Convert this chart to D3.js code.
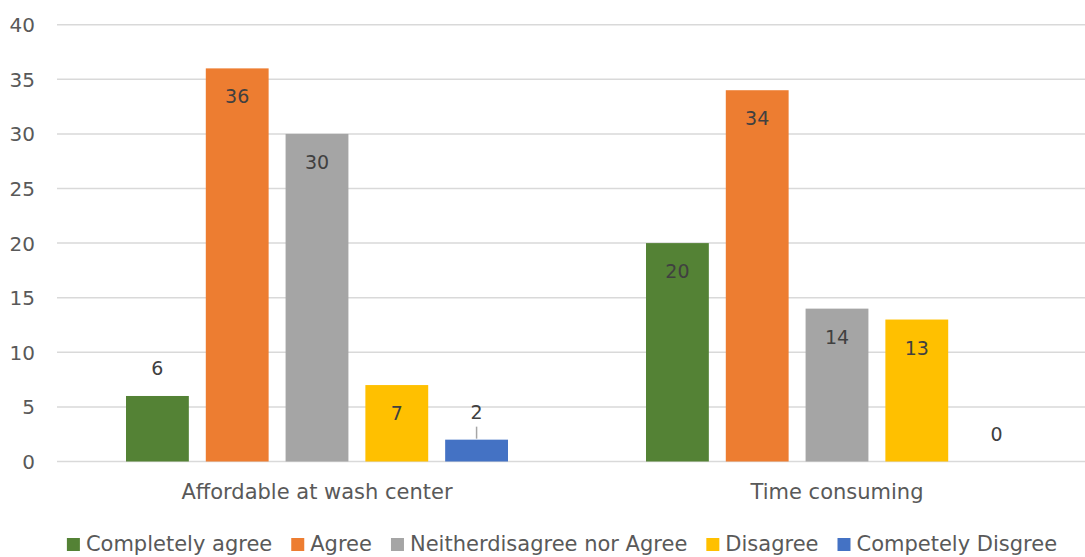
<!DOCTYPE html>
<html>
<head>
<meta charset="utf-8">
<script src="https://cdn.jsdelivr.net/npm/d3@7"></script>
<style>
  body { margin: 0; background: #fff; }
  text { font-family: "DejaVu Sans", sans-serif; }
</style>
</head>
<body>
<svg id="chart" width="1085" height="557"></svg>
<script>
var categories = ["Affordable at wash center", "Time consuming"];
var seriesNames = ["Completely agree", "Agree", "Neitherdisagree nor Agree", "Disagree", "Competely Disgree"];
var seriesColors = ["#548235", "#ED7D31", "#A5A5A5", "#FFC000", "#4472C4"];
// values per series, one per category
var completelyAgree = [6, 20];
var agree = [36, 34];
var neither = [30, 14];
var disagree = [7, 13];
var completelyDisagree = [2, 0];
var yTicks = [0, 5, 10, 15, 20, 25, 30, 35, 40];

(function(){
  "use strict";

  var svg = d3.select("#chart");
  var values = [completelyAgree, agree, neither, disagree, completelyDisagree];

  var x0 = d3.scaleBand().domain(categories).range([57, 1097]).paddingInner(0).paddingOuter(0);
  var x1 = d3.scaleBand().domain(seriesNames).range([69, 451]).paddingInner(0.2125).paddingOuter(0);
  var y = d3.scaleLinear().domain([0, 40]).range([461.5, 24.7]);

  // gridlines
  svg.append("g").selectAll("line")
    .data(yTicks)
    .enter().append("line")
    .attr("x1", 57).attr("x2", 1085)
    .attr("y1", function(d) { return y(d); })
    .attr("y2", function(d) { return y(d); })
    .attr("stroke", "#d9d9d9")
    .attr("stroke-width", 1.5);

  // y axis labels
  svg.append("g").selectAll("text")
    .data(yTicks)
    .enter().append("text")
    .attr("x", 35)
    .attr("y", function(d) { return y(d) + 7.5; })
    .attr("text-anchor", "end")
    .attr("font-size", 20)
    .attr("fill", "#595959")
    .text(function(d) { return d; });

  var points = [];
  categories.forEach(function(c, ci) {
    seriesNames.forEach(function(s, si) {
      points.push({cat: c, series: s, si: si, value: values[si][ci]});
    });
  });

  var bars = svg.append("g");
  bars.selectAll("rect")
    .data(points)
    .enter().append("rect")
    .attr("x", function(d) { return x0(d.cat) + x1(d.series); })
    .attr("width", x1.bandwidth())
    .attr("y", function(d) { return y(d.value); })
    .attr("height", function(d) { return y(0) - y(d.value); })
    .attr("fill", function(d) { return seriesColors[d.si]; });

  // data labels: inside end for bigger bars, outside for small ones
  function inside(d) { return d.value >= 7; }
  function labelY(d) { return inside(d) ? y(d.value) + 28 : y(d.value) - 28; }

  bars.selectAll("text")
    .data(points)
    .enter().append("text")
    .attr("x", function(d) { return x0(d.cat) + x1(d.series) + x1.bandwidth() / 2; })
    .attr("y", function(d) { return labelY(d) + 7; })
    .attr("text-anchor", "middle")
    .attr("font-size", 19)
    .attr("fill", "#404040")
    .text(function(d) { return d.value; });

  // leader line on the small blue bar
  bars.selectAll("line.leader")
    .data(points.filter(function(d) { return d.si === 4 && d.value > 0; }))
    .enter().append("line")
    .attr("class", "leader")
    .attr("x1", function(d) { return x0(d.cat) + x1(d.series) + x1.bandwidth() / 2; })
    .attr("x2", function(d) { return x0(d.cat) + x1(d.series) + x1.bandwidth() / 2; })
    .attr("y1", function(d) { return y(d.value) - 13; })
    .attr("y2", function(d) { return y(d.value) - 1; })
    .attr("stroke", "#a6a6a6")
    .attr("stroke-width", 1.5);

  // category labels
  svg.append("g").selectAll("text")
    .data(categories)
    .enter().append("text")
    .attr("x", function(d) { return x0(d) + x0.bandwidth() / 2; })
    .attr("y", 499)
    .attr("text-anchor", "middle")
    .attr("font-size", 21)
    .attr("fill", "#595959")
    .text(function(d) { return d; });

  // legend
  var legend = svg.append("g");
  var items = legend.selectAll("g")
    .data(seriesNames)
    .enter().append("g");
  items.append("rect")
    .attr("width", 13).attr("height", 13)
    .attr("y", 538)
    .attr("fill", function(d, i) { return seriesColors[i]; });
  items.append("text")
    .attr("x", 19)
    .attr("y", 551)
    .attr("font-size", 21)
    .attr("fill", "#595959")
    .text(function(d) { return d; });

  var offset = 0, pos = [];
  items.each(function() {
    pos.push(offset);
    offset += 19 + d3.select(this).select("text").node().getComputedTextLength() + 19;
  });
  var total = offset - 19;
  var start = 562 - total / 2;
  items.attr("transform", function(d, i) { return "translate(" + (start + pos[i]) + ",0)"; });
}());
</script>
</body>
</html>
